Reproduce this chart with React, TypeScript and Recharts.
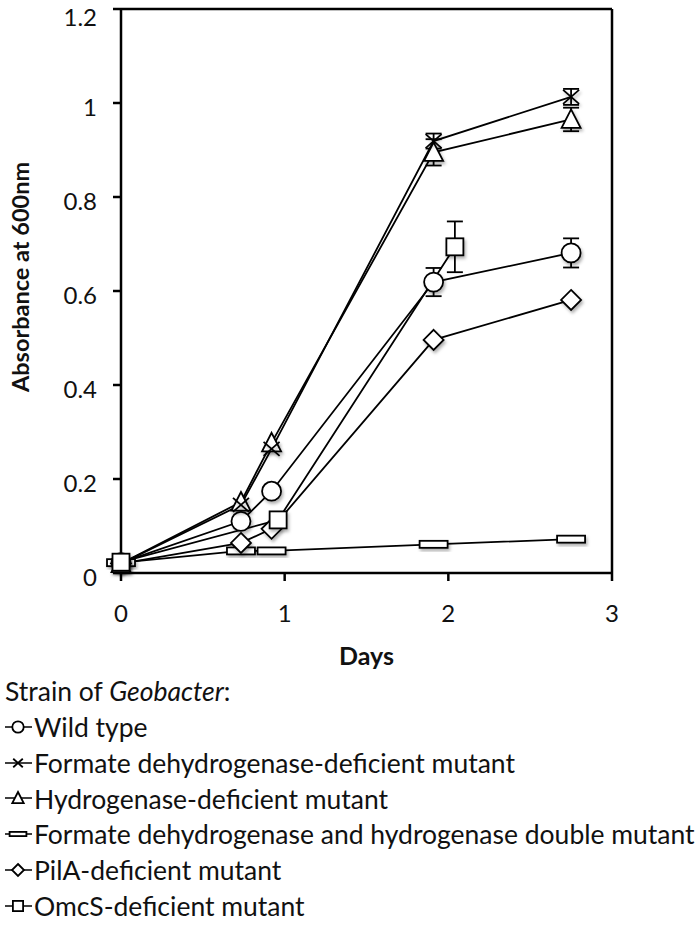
import React from "react";
import {
  LineChart,
  Line,
  XAxis,
  YAxis,
  ErrorBar,
  ReferenceLine,
  Label,
} from "recharts";

// days / absorbance
const wildDays = [0, 0.733, 0.92, 1.91, 2.75];
const wildAbs = [0.022, 0.11, 0.174, 0.619, 0.681];
const wildErr = [0, 0, 0, 0.03, 0.031];

const fdhDays = [0, 0.733, 0.92, 1.91, 2.75];
const fdhAbs = [0.02, 0.145, 0.264, 0.919, 1.013];
const fdhErr = [0, 0, 0, 0.016, 0.017];

const hydDays = [0, 0.733, 0.92, 1.91, 2.75];
const hydAbs = [0.02, 0.151, 0.277, 0.895, 0.965];
const hydErr = [0, 0, 0, 0.028, 0.025];

const dblDays = [0, 0.733, 0.92, 1.91, 2.75];
const dblAbs = [0.022, 0.047, 0.047, 0.061, 0.072];
const dblErr = [0, 0, 0, 0, 0];

const pilDays = [0, 0.733, 0.92, 1.91, 2.75];
const pilAbs = [0.02, 0.064, 0.094, 0.496, 0.581];
const pilErr = [0, 0, 0, 0, 0];

const omcDays = [0, 0.96, 2.04];
const omcAbs = [0.023, 0.113, 0.694];
const omcErr = [0, 0, 0.054];

const xTicks = [0, 1, 2, 3];
const yTicks = [0, 0.2, 0.4, 0.6, 0.8, 1, 1.2];

const FONT = "Lato, 'Open Sans', sans-serif";

const toRows = (days: number[], abs: number[], err: number[]) =>
  days.map((d, i) => ({ day: d, abs: abs[i], err: err[i] }));

type Kind = "circle" | "cross" | "triangle" | "bar" | "diamond" | "square";

const Marker = ({ kind, cx, cy, s = 1 }: { kind: Kind; cx: number; cy: number; s?: number }) => {
  const st = { stroke: "#000", strokeWidth: 1.8, fill: "#fff" };
  switch (kind) {
    case "circle":
      return <circle cx={cx} cy={cy} r={9.5 * s} {...st} />;
    case "cross":
      return (
        <g stroke="#000" strokeWidth={1.8}>
          <line x1={cx - 8 * s} y1={cy - 7 * s} x2={cx + 8 * s} y2={cy + 7 * s} />
          <line x1={cx - 8 * s} y1={cy + 7 * s} x2={cx + 8 * s} y2={cy - 7 * s} />
        </g>
      );
    case "triangle":
      return (
        <polygon
          points={`${cx},${cy - 10 * s} ${cx + 9.5 * s},${cy + 8.5 * s} ${cx - 9.5 * s},${cy + 8.5 * s}`}
          {...st}
        />
      );
    case "bar":
      return <rect x={cx - 14 * s} y={cy - 3.5 * s} width={28 * s} height={7 * s} {...st} />;
    case "diamond":
      return (
        <polygon
          points={`${cx},${cy - 10 * s} ${cx + 10 * s},${cy} ${cx},${cy + 10 * s} ${cx - 10 * s},${cy}`}
          {...st}
        />
      );
    default:
      return <rect x={cx - 8.5 * s} y={cy - 8.5 * s} width={17 * s} height={17 * s} {...st} />;
  }
};

const dotFor = (kind: Kind) => (p: any) => (
  <g key={`${kind}-${p.index}`} filter="url(#mkshadow)">
    <Marker kind={kind} cx={p.cx} cy={p.cy} />
  </g>
);

const series: { name: string; kind: Kind; rows: ReturnType<typeof toRows> }[] = [
  { name: "Formate dehydrogenase and hydrogenase double mutant", kind: "bar", rows: toRows(dblDays, dblAbs, dblErr) },
  { name: "PilA-deficient mutant", kind: "diamond", rows: toRows(pilDays, pilAbs, pilErr) },
  { name: "Wild type", kind: "circle", rows: toRows(wildDays, wildAbs, wildErr) },
  { name: "Hydrogenase-deficient mutant", kind: "triangle", rows: toRows(hydDays, hydAbs, hydErr) },
  { name: "Formate dehydrogenase-deficient mutant", kind: "cross", rows: toRows(fdhDays, fdhAbs, fdhErr) },
  { name: "OmcS-deficient mutant", kind: "square", rows: toRows(omcDays, omcAbs, omcErr) },
];

const legendOrder: { name: string; kind: Kind }[] = [
  { name: "Wild type", kind: "circle" },
  { name: "Formate dehydrogenase-deficient mutant", kind: "cross" },
  { name: "Hydrogenase-deficient mutant", kind: "triangle" },
  { name: "Formate dehydrogenase and hydrogenase double mutant", kind: "bar" },
  { name: "PilA-deficient mutant", kind: "diamond" },
  { name: "OmcS-deficient mutant", kind: "square" },
];

const YTitle = (props: any) => {
  const vb = props.viewBox || {};
  const cy = (vb.y ?? 0) + (vb.height ?? 0) / 2 - 14;
  return (
    <text
      x={20}
      y={cy}
      transform={`rotate(-90 20 ${cy})`}
      textAnchor="middle"
      dominantBaseline="central"
      fontFamily={FONT}
      fontWeight={700}
      fontSize={23.5}
      fill="#111"
    >
      Absorbance at 600nm
    </text>
  );
};

const axisTick = { fontFamily: FONT, fontSize: 24, fill: "#111" };

export default function App() {
  return (
    <div style={{ position: "absolute", left: 0, top: 0, width: 700, height: 938, background: "#fff" }}>
      <svg width={0} height={0} style={{ position: "absolute" }}>
        <defs>
          <filter id="mkshadow" x="-50%" y="-50%" width="200%" height="200%">
            <feDropShadow dx="1.5" dy="2.5" stdDeviation="1.5" floodColor="#000" floodOpacity="0.3" />
          </filter>
        </defs>
      </svg>
      <LineChart width={700} height={680} margin={{ top: 9, right: 88, bottom: 7, left: 0 }}>
        <XAxis
          dataKey="day"
          type="number"
          domain={[0, 3]}
          ticks={xTicks}
          allowDuplicatedCategory={false}
          height={100}
          stroke="#000"
          strokeWidth={2.5}
          tickSize={8}
          tickMargin={24}
          tick={axisTick}
          tickLine={{ stroke: "#000", strokeWidth: 2.5 }}
        >
          <Label
            value="Days"
            position="insideBottom"
            offset={8}
            style={{ fontFamily: FONT, fontWeight: 700, fontSize: 25, fill: "#111" }}
          />
        </XAxis>
        <YAxis
          type="number"
          domain={[0, 1.2]}
          ticks={yTicks}
          width={121}
          stroke="#000"
          strokeWidth={2.5}
          tickSize={8}
          tickMargin={16}
          tick={{ ...axisTick, dy: 4 }}
          tickLine={{ stroke: "#000", strokeWidth: 2.5 }}
        >
          <Label content={YTitle} />
        </YAxis>
        <ReferenceLine y={1.2} stroke="#000" strokeWidth={2.5} />
        <ReferenceLine x={3} stroke="#000" strokeWidth={2.5} />
        {series.map((s) => (
          <Line
            key={s.name}
            data={s.rows}
            dataKey="abs"
            name={s.name}
            stroke="#000"
            strokeWidth={1.8}
            isAnimationActive={false}
            dot={dotFor(s.kind)}
            activeDot={false}
            legendType="none"
          >
            <ErrorBar dataKey="err" direction="y" width={8} stroke="#000" strokeWidth={1.8} />
          </Line>
        ))}
      </LineChart>
      <div
        style={{
          position: "absolute",
          left: 0,
          top: 673,
          fontFamily: FONT,
          fontSize: 26.5,
          color: "#111",
          lineHeight: "36px",
        }}
      >
        <div style={{ paddingLeft: 5 }}>
          Strain of <i>Geobacter</i>:
        </div>
        {legendOrder.map((l) => (
          <div key={l.name} style={{ display: "flex", alignItems: "center", height: 35.8 }}>
            <svg width={34} height={24} style={{ flex: "none" }}>
              <line x1={5} y1={12} x2={32} y2={12} stroke="#000" strokeWidth={1.5} />
              <Marker kind={l.kind} cx={18} cy={12} s={0.6} />
            </svg>
            <span style={{ whiteSpace: "nowrap" }}>{l.name}</span>
          </div>
        ))}
      </div>
    </div>
  );
}
